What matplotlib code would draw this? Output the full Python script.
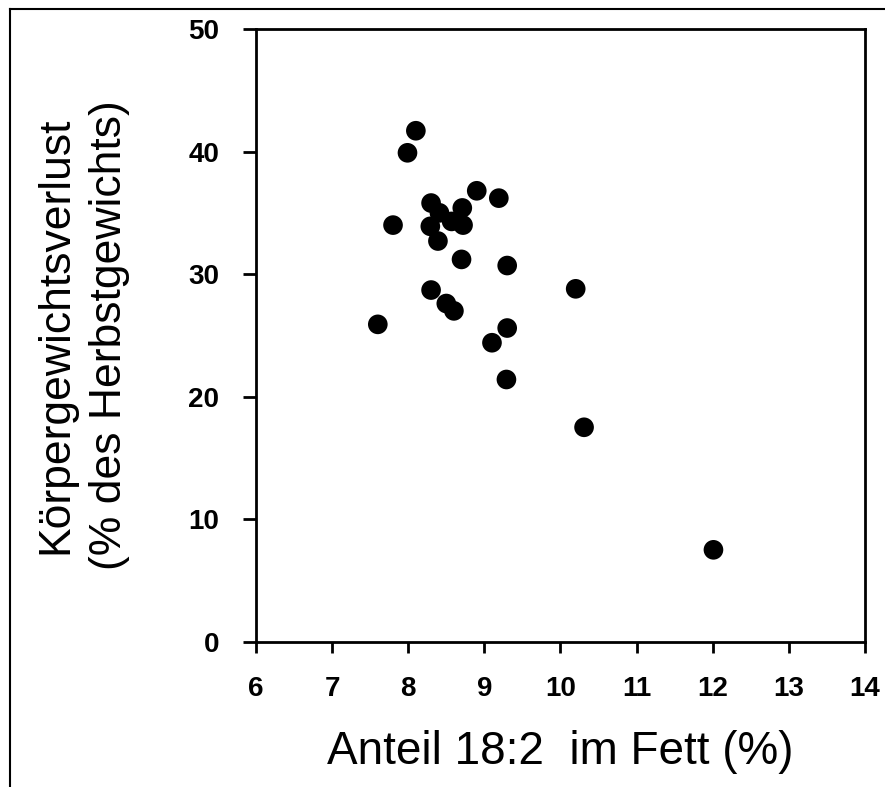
import matplotlib
matplotlib.use("Agg")
import matplotlib.pyplot as plt
from matplotlib.lines import Line2D

# Data
fett_18_2 = [8.10, 7.99, 8.90, 9.19, 8.30, 8.41, 8.71, 7.80, 8.29, 8.57, 8.72, 8.39,
             8.70, 9.30, 8.30, 10.20, 8.50, 8.60, 7.60, 9.30, 9.10, 9.29, 10.31, 12.01]
gewichtsverlust = [41.7, 39.9, 36.8, 36.2, 35.8, 35.0, 35.4, 34.0, 33.9, 34.3, 34.0, 32.7,
                   31.2, 30.7, 28.7, 28.8, 27.6, 27.0, 25.9, 25.6, 24.4, 21.4, 17.5, 7.5]

x_ticks = [6, 7, 8, 9, 10, 11, 12, 13, 14]
y_ticks = [0, 10, 20, 30, 40, 50]

plt.rcParams['font.family'] = ['Liberation Sans', 'DejaVu Sans']

fig = plt.figure(figsize=(8.85, 7.87), dpi=100)
ax = fig.add_axes([0.2893, 0.1846, 0.688, 0.7785])

ax.scatter(fett_18_2, gewichtsverlust, s=200, color='black', edgecolors='none',
           zorder=3, clip_on=False)

ax.set_xlim(6, 14)
ax.set_ylim(0, 50)
ax.set_xticks(x_ticks)
ax.set_yticks(y_ticks)
ax.set_xticklabels([str(t) for t in x_ticks], fontsize=20, fontweight='bold')
ax.set_yticklabels([str(t) for t in y_ticks], fontsize=20, fontweight='bold')

for side in ax.spines.values():
    side.set_linewidth(2.0)
ax.tick_params(axis='x', direction='out', length=8, width=2.0, pad=17)
ax.tick_params(axis='y', direction='out', length=9.5, width=2.0, pad=17)

ax.set_xlabel("Anteil 18:2  im Fett (%)", fontsize=33, labelpad=20)
ax.set_ylabel("Körpergewichtsverlust\n(% des Herbstgewichts)", fontsize=32,
              labelpad=42, linespacing=1.4)

# partial frame from the original page
fig.add_artist(Line2D([0.0113, 0.0113], [0.0, 0.9886], color='black', lw=1.5))
fig.add_artist(Line2D([0.0113, 1.0], [0.9886, 0.9886], color='black', lw=1.5))

fig.savefig("out.png", dpi=100)
